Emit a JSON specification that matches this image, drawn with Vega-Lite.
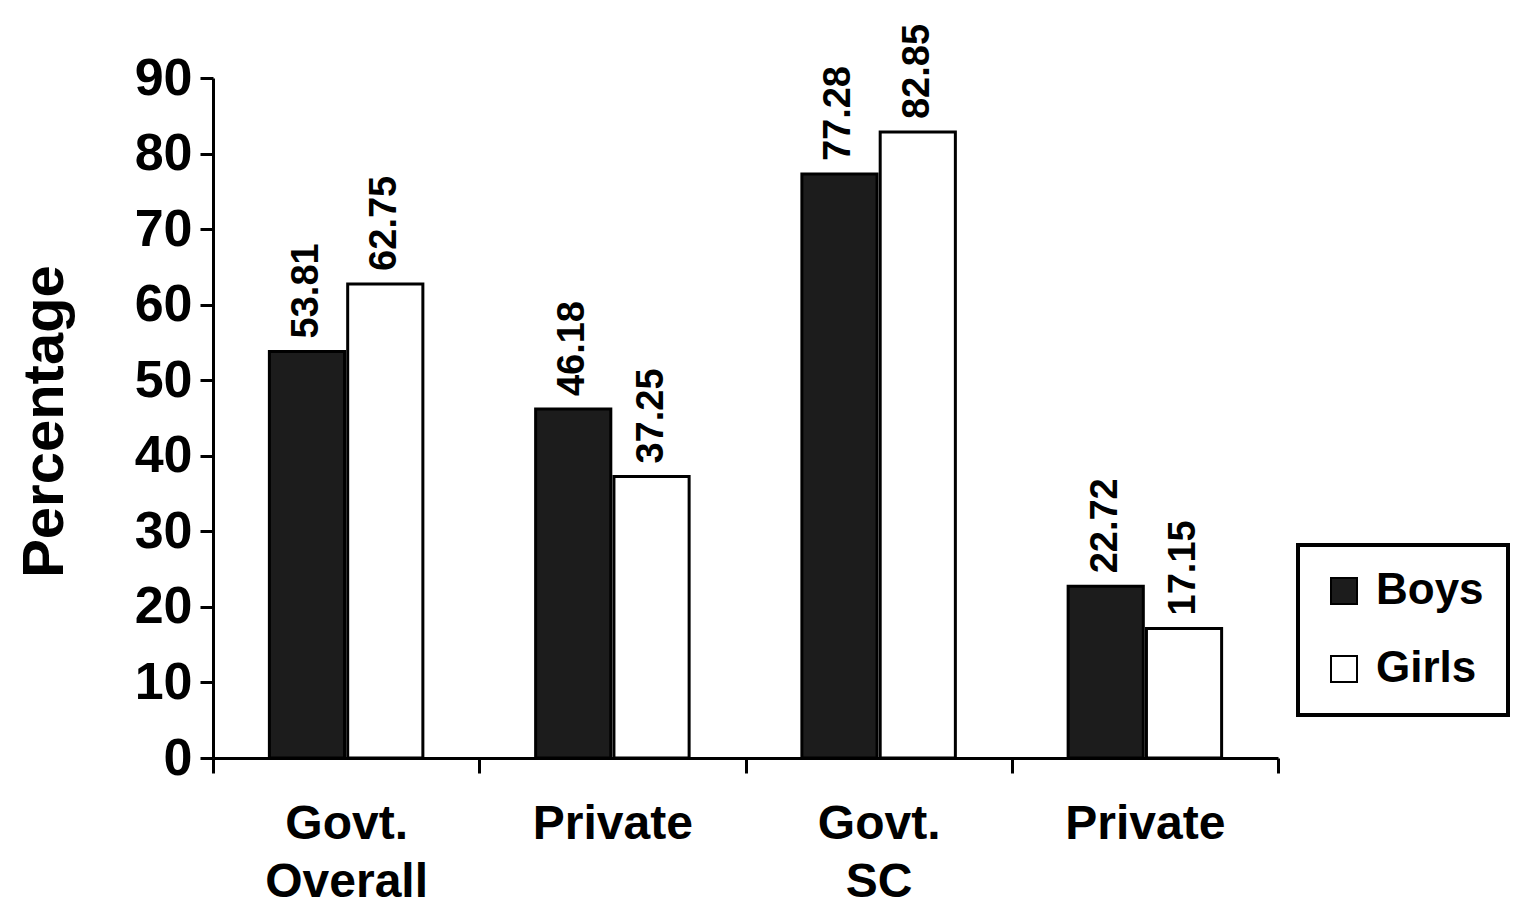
{
  "$schema": "https://vega.github.io/schema/vega-lite/v6.json",
  "width": 1065,
  "height": 680,
  "autosize": {"type": "none"},
  "padding": {"left": 213, "top": 78, "right": 235, "bottom": 153},
  "background": "white",
  "config": {
    "view": {"stroke": null},
    "font": "Liberation Sans",
    "axis": {"domainColor": "black", "tickColor": "black", "labelColor": "black", "titleColor": "black", "grid": false}
  },
  "data": {
    "values": [
      {"cat": "Govt. Overall", "gender": "Boys", "value": 53.81},
      {"cat": "Govt. Overall", "gender": "Girls", "value": 62.75},
      {"cat": "Private (Overall)", "gender": "Boys", "value": 46.18},
      {"cat": "Private (Overall)", "gender": "Girls", "value": 37.25},
      {"cat": "Govt. SC", "gender": "Boys", "value": 77.28},
      {"cat": "Govt. SC", "gender": "Girls", "value": 82.85},
      {"cat": "Private (SC)", "gender": "Boys", "value": 22.72},
      {"cat": "Private (SC)", "gender": "Girls", "value": 17.15}
    ]
  },
  "encoding": {
    "x": {
      "field": "cat",
      "type": "nominal",
      "sort": ["Govt. Overall", "Private (Overall)", "Govt. SC", "Private (SC)"],
      "scale": {"paddingInner": 0, "paddingOuter": 0},
      "axis": {
        "title": null,
        "labelAngle": 0,
        "labelFontSize": 48,
        "labelFontWeight": "bold",
        "labelPadding": 27,
        "labelLineHeight": 58,
        "labelExpr": "datum.value == 'Govt. Overall' ? ['Govt.', 'Overall'] : datum.value == 'Govt. SC' ? ['Govt.', 'SC'] : (datum.value == 'Private (Overall)' || datum.value == 'Private (SC)') ? 'Private' : ''",
        "tickBand": "extent",
        "tickSize": 15,
        "tickWidth": 3,
        "domainWidth": 3
      }
    },
    "xOffset": {
      "field": "gender",
      "type": "nominal",
      "scale": {"paddingInner": 0.04, "paddingOuter": 0.72}
    },
    "y": {
      "field": "value",
      "type": "quantitative",
      "scale": {"domain": [0, 90], "nice": false},
      "axis": {
        "title": "Percentage",
        "values": [0, 10, 20, 30, 40, 50, 60, 70, 80, 90],
        "labelFontSize": 52,
        "labelFontWeight": "bold",
        "labelPadding": 8,
        "tickSize": 13,
        "tickWidth": 3,
        "domainWidth": 3,
        "titleFontSize": 58,
        "titleFontWeight": "bold",
        "titleAngle": -90,
        "titleX": -168,
        "titleY": 343,
        "titleAlign": "center",
        "titleBaseline": "middle"
      }
    }
  },
  "layer": [
    {
      "mark": {"type": "bar", "stroke": "black", "strokeWidth": 3},
      "encoding": {
        "color": {
          "field": "gender",
          "type": "nominal",
          "scale": {"domain": ["Boys", "Girls"], "range": ["#1c1c1c", "#ffffff"]},
          "legend": {
            "title": null,
            "orient": "none",
            "legendX": 1085,
            "legendY": 467,
            "labelFontSize": 44,
            "labelFontWeight": "bold",
            "labelColor": "black",
            "symbolType": "square",
            "symbolSize": 676,
            "symbolStrokeColor": "black",
            "symbolStrokeWidth": 2,
            "rowPadding": 34,
            "labelOffset": 10,
            "padding": 24,
            "strokeColor": "black",
            "fillColor": "white",
            "encode": {"legend": {"update": {"strokeWidth": {"value": 4}}}}
          }
        }
      }
    },
    {
      "mark": {"type": "text", "angle": -90, "align": "left", "baseline": "middle", "dx": 13, "fontSize": 38, "fontWeight": "bold", "color": "black"},
      "encoding": {
        "text": {"field": "value", "type": "quantitative", "format": ".2f"}
      }
    }
  ]
}
